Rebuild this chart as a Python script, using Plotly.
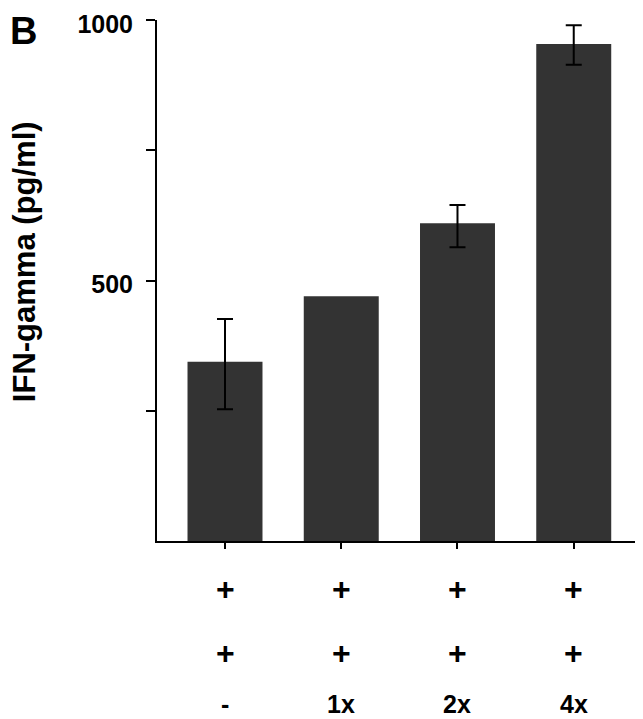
import plotly.graph_objects as go

# Werte (IFN-gamma, pg/ml)
positions = [0, 1, 2, 3]
ifn_gamma = [344, 470, 610, 954]
err_plus = [82, None, 35, 36]
err_minus = [91, None, 46, 40]

row1 = ["+", "+", "+", "+"]
row2 = ["+", "+", "+", "+"]
row3 = ["-", "1x", "2x", "4x"]

FONT = "Liberation Sans"
# die Seite hat 8px Rand am body -> Figur etwas kleiner
PAGE_PAD = 8

fig = go.Figure()
fig.add_trace(go.Bar(
    x=positions, y=ifn_gamma, width=0.645,
    marker=dict(color="#333333", line=dict(width=0)),
))

# Fehlerbalken nur dort, wo im Original welche sind
idx = [i for i, e in enumerate(err_plus) if e is not None]
fig.add_trace(go.Scatter(
    x=[positions[i] for i in idx], y=[ifn_gamma[i] for i in idx], mode="markers",
    marker=dict(size=1, opacity=0),
    error_y=dict(type="data", symmetric=False,
                 array=[err_plus[i] for i in idx], arrayminus=[err_minus[i] for i in idx],
                 color="black", thickness=2, width=8),
))

# Beschriftungszeilen unter der x-Achse
for row, ypos, size in [(row1, -0.092, 32), (row2, -0.215, 32), (row3, -0.312, 25)]:
    for xi, txt in zip(positions, row):
        fig.add_annotation(x=xi, y=ypos, xref="x", yref="paper", text=txt, showarrow=False,
                           xanchor="center", yanchor="middle",
                           font=dict(family=FONT, size=size, color="black", weight="bold"))

fig.add_annotation(x=-0.274, y=0.5365, xref="paper", yref="paper", text="IFN-gamma (pg/ml)",
                   textangle=-90, showarrow=False, xanchor="center", yanchor="middle",
                   font=dict(family=FONT, size=31, color="black", weight="bold"))
fig.add_annotation(x=-0.308, y=0.978, xref="paper", yref="paper", text="B", showarrow=False,
                   xanchor="left", yanchor="middle",
                   font=dict(family=FONT, size=38, color="black", weight="bold"))

fig.update_layout(
    width=643 - PAGE_PAD, height=719 - PAGE_PAD,
    margin=dict(l=157 - PAGE_PAD, r=3, t=20 - PAGE_PAD, b=178),
    paper_bgcolor="white", plot_bgcolor="white",
    showlegend=False,
    xaxis=dict(range=[-0.585, 3.57], tickvals=positions, ticktext=["", "", "", ""],
               showline=True, linecolor="black", linewidth=2, ticks="outside",
               ticklen=6, tickwidth=2, tickcolor="black", showgrid=False, zeroline=False,
               automargin=False),
    yaxis=dict(range=[0, 1000], tickvals=[250, 500, 750, 1000], ticktext=["", "500", "", "1000"],
               showline=True, linecolor="black", linewidth=2, ticks="outside",
               ticklen=9, tickwidth=2, tickcolor="black", showgrid=False, zeroline=False,
               ticklabelstandoff=8, ticklabelshift=4, ticklabeloverflow="allow", automargin=False,
               tickfont=dict(family=FONT, size=25, color="black", weight="bold")),
)

fig.write_html("out.html")
